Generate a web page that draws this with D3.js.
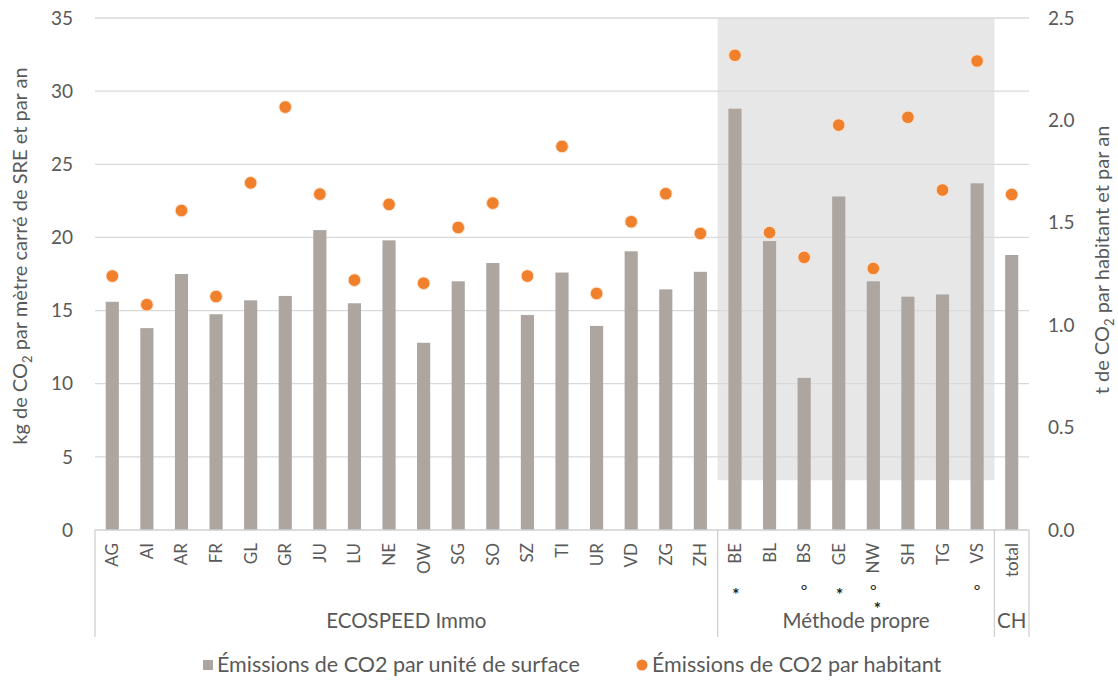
<!DOCTYPE html>
<html>
<head>
<meta charset="utf-8">
<script src="https://cdn.jsdelivr.net/npm/d3@7"></script>
<style>
  html, body { margin: 0; padding: 0; background: #ffffff; }
  svg { display: block; font-family: Lato, "Open Sans", sans-serif; }
</style>
</head>
<body>
<svg id="chart" width="1118" height="682"></svg>
<script>
// ---- Data ----
const categories = ["AG","AI","AR","FR","GL","GR","JU","LU","NE","OW","SG","SO","SZ","TI","UR","VD","ZG","ZH",
                    "BE","BL","BS","GE","NW","SH","TG","VS","total"];
const surfaceValues = [15.6,13.8,17.5,14.75,15.7,16.0,20.5,15.5,19.8,12.8,17.0,18.25,14.7,17.6,13.95,19.05,16.45,17.65,
                       28.8,19.75,10.4,22.8,17.0,15.95,16.1,23.7,18.8];
const habitantValues = [1.24,1.10,1.56,1.14,1.695,2.065,1.64,1.22,1.59,1.205,1.477,1.596,1.24,1.873,1.155,1.505,1.642,1.448,
                        2.318,1.452,1.331,1.977,1.277,2.015,1.66,2.29,1.638];
const groupNames = ["ECOSPEED Immo","Méthode propre","CH"];
const groupSizes = [18, 8, 1];
const markerCats = ["BE","BS","GE","NW","VS"];
const markerTexts = [["*"],["°"],["*"],["°","*"],["°"]];
const leftTicks = [0,5,10,15,20,25,30,35];
const rightTicks = [0,0.5,1.0,1.5,2.0,2.5];
const highlightGroup = "Méthode propre";
const highlightFloor = 3.4;
const seriesNames = ["Émissions de CO2 par unité de surface","Émissions de CO2 par habitant"];

// ---- Layout ----
const svg = d3.select("#chart");
const plotL = 95, plotR = 1029, plotT = 18, plotB = 530;
const barColor = "#ada59f", dotColor = "#f0802c", gridColor = "#d9d9d9", textColor = "#595959";

const x = d3.scaleBand().domain(categories).range([plotL, plotR]).padding(0);
const yL = d3.scaleLinear().domain([0, 35]).range([plotB, plotT]);
const yR = d3.scaleLinear().domain([0, 2.5]).range([plotB, plotT]);

// group ranges
let start = 0;
const groups = groupNames.map((g, i) => {
  const cats = categories.slice(start, start + groupSizes[i]);
  start += groupSizes[i];
  return { name: g, cats, x0: x(cats[0]), x1: x(cats[cats.length - 1]) + x.bandwidth() };
});

// highlight box
const hg = groups.find(g => g.name === highlightGroup);
svg.append("rect")
  .attr("x", hg.x0).attr("y", yL(35))
  .attr("width", hg.x1 - hg.x0).attr("height", yL(highlightFloor) - yL(35))
  .attr("fill", "#e7e7e7");

// gridlines
svg.append("g").selectAll("line").data(leftTicks.filter(d => d > 0)).join("line")
  .attr("x1", plotL).attr("x2", plotR)
  .attr("y1", d => yL(d)).attr("y2", d => yL(d))
  .attr("stroke", gridColor).attr("stroke-width", 1.3);

// left tick labels
svg.append("g").selectAll("text").data(leftTicks).join("text")
  .attr("x", 73).attr("y", d => yL(d)).attr("dy", "0.35em")
  .attr("text-anchor", "end").attr("fill", textColor).attr("font-size", 19)
  .text(d => d);

// right tick labels
svg.append("g").selectAll("text").data(rightTicks).join("text")
  .attr("x", 1048).attr("y", d => yR(d)).attr("dy", "0.35em")
  .attr("text-anchor", "start").attr("fill", textColor).attr("font-size", 19)
  .text(d => d3.format(".1f")(d));

// bars
const bw = x.bandwidth() * 0.38;
svg.append("g").selectAll("rect").data(categories).join("rect")
  .attr("x", d => x(d) + (x.bandwidth() - bw) / 2)
  .attr("y", (d, i) => yL(surfaceValues[i]))
  .attr("width", bw)
  .attr("height", (d, i) => yL(0) - yL(surfaceValues[i]))
  .attr("fill", barColor);

// dots
svg.append("g").selectAll("circle").data(categories).join("circle")
  .attr("cx", d => x(d) + x.bandwidth() / 2)
  .attr("cy", (d, i) => yR(habitantValues[i]))
  .attr("r", 6.3)
  .attr("fill", dotColor)
  .attr("stroke", "#fbe3d0").attr("stroke-width", 1);

// x axis baseline
svg.append("line").attr("x1", plotL).attr("x2", plotR).attr("y1", plotB).attr("y2", plotB)
  .attr("stroke", "#d0d0d0").attr("stroke-width", 1.3);

// group separators
const seps = [plotL].concat(groups.map(g => g.x1));
svg.append("g").selectAll("line").data(seps).join("line")
  .attr("x1", d => d).attr("x2", d => d).attr("y1", plotB).attr("y2", 637)
  .attr("stroke", "#d0d0d0").attr("stroke-width", 1.3);

// category labels
svg.append("g").selectAll("text").data(categories).join("text")
  .attr("transform", d => `translate(${x(d) + x.bandwidth() / 2 + 6},543) rotate(-90)`)
  .attr("text-anchor", "end").attr("fill", textColor).attr("font-size", 17)
  .text(d => d);

// markers (footnote symbols under some categories)
markerCats.forEach((c, i) => {
  markerTexts[i].forEach((m, j) => {
    const star = m === "*";
    svg.append("text")
      .attr("x", x(c) + x.bandwidth() / 2 + (star ? 1 + j * 3 : 0))
      .attr("y", (star ? 601 : 596) + j * 14)
      .attr("text-anchor", "middle").attr("fill", "#222")
      .attr("font-size", star ? 17 : 16)
      .attr("font-weight", star ? "bold" : "normal")
      .text(m);
  });
});

// group labels
svg.append("g").selectAll("text").data(groups).join("text")
  .attr("x", d => (d.x0 + d.x1) / 2).attr("y", 628)
  .attr("text-anchor", "middle").attr("fill", textColor).attr("font-size", 20.5)
  .text(d => d.name);

// axis titles
const lt = svg.append("text").attr("transform", "translate(27,256) rotate(-90)")
  .attr("text-anchor", "middle").attr("fill", textColor).attr("font-size", 20);
lt.append("tspan").text("kg de CO");
lt.append("tspan").attr("font-size", 13).attr("dy", 5).text("2");
lt.append("tspan").attr("dy", -5).text(" par mètre carré de SRE et par an");

const rt = svg.append("text").attr("transform", "translate(1109,260) rotate(-90)")
  .attr("text-anchor", "middle").attr("fill", textColor).attr("font-size", 20);
rt.append("tspan").text("t de CO");
rt.append("tspan").attr("font-size", 13).attr("dy", 5).text("2");
rt.append("tspan").attr("dy", -5).text(" par habitant et par an");

// legend
const leg = svg.append("g");
leg.append("rect").attr("x", 203).attr("y", 660).attr("width", 10).attr("height", 10).attr("fill", barColor);
leg.append("text").attr("x", 217).attr("y", 672).attr("fill", textColor).attr("font-size", 21.5).text(seriesNames[0]);
leg.append("circle").attr("cx", 642).attr("cy", 665).attr("r", 5.5).attr("fill", dotColor);
leg.append("text").attr("x", 652).attr("y", 672).attr("fill", textColor).attr("font-size", 21.5).text(seriesNames[1]);
</script>
</body>
</html>
